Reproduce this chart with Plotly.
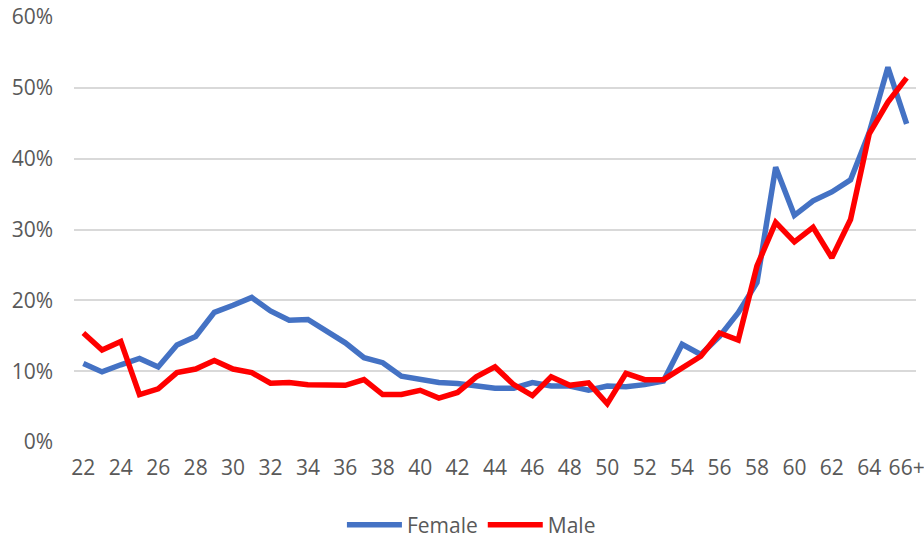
import plotly.graph_objects as go

ages = [str(a) for a in range(22, 66)] + ["66+"]
tick_labels = [str(a) for a in range(22, 66, 2)] + ["66+"]

female = [11.1, 9.9, 10.9, 11.8, 10.6, 13.7, 14.9, 18.3, 19.3, 20.4,
          18.5, 17.2, 17.3, 15.7, 14.0, 11.9, 11.2, 9.3, 8.9, 8.4,
          8.25, 8.0, 7.6, 7.6, 8.4, 7.9, 7.9, 7.3, 7.9, 7.8,
          8.1, 8.6, 13.8, 12.35, 14.9, 18.25, 22.5, 38.8, 32.0, 34.05,
          35.3, 37.0, 43.7, 52.9, 44.9]
male = [15.4, 13.0, 14.2, 6.7, 7.5, 9.8, 10.3, 11.5, 10.3, 9.8,
        8.3, 8.4, 8.1, 8.0, 8.0, 8.8, 6.7, 6.7, 7.3, 6.2,
        7.0, 9.2, 10.6, 8.1, 6.55, 9.2, 8.0, 8.35, 5.4, 9.7,
        8.8, 8.8, 10.4, 12.1, 15.4, 14.4, 24.85, 31.0, 28.25, 30.3,
        26.0, 31.4, 43.5, 48.0, 51.4]

female_frac = [v / 100 for v in female]
male_frac = [v / 100 for v in male]

fig = go.Figure()
fig.add_trace(go.Scatter(x=ages, y=female_frac, name="Female", mode="lines",
                         line=dict(color="#4472C4", width=5.5)))
fig.add_trace(go.Scatter(x=ages, y=male_frac, name="Male", mode="lines",
                         line=dict(color="#FF0000", width=5.5)))

font_family = "Open Sans"
fs = 21
fig.update_layout(
    width=924, height=539,
    margin=dict(l=74, r=8, t=17, b=97, autoexpand=False),
    plot_bgcolor="white", paper_bgcolor="white",
    font=dict(family=font_family, size=fs, color="#595959"),
    xaxis=dict(type="category", range=[-0.5, len(ages) - 0.5], automargin=False,
               tickmode="array", tickvals=tick_labels, ticktext=tick_labels,
               showgrid=False, showline=False, zeroline=False,
               ticks="", ticklabelstandoff=11,
               tickfont=dict(size=fs, color="#595959")),
    yaxis=dict(range=[0, 0.6], tickvals=[0, 0.1, 0.2, 0.3, 0.4, 0.5, 0.6], automargin=False,
               tickformat=".0%", showgrid=True, gridcolor="#D9D9D9", gridwidth=1.5,
               zeroline=False, showline=False, ticks="", ticklabelstandoff=20,
               tickfont=dict(size=fs, color="#595959")),
    legend=dict(orientation="h", x=0.472, xanchor="center",
                yref="container", y=0.026, yanchor="middle",
                font=dict(size=fs, color="#595959"), itemwidth=55,
                bgcolor="rgba(0,0,0,0)"),
    showlegend=True,
)

fig.write_html("out.html")
